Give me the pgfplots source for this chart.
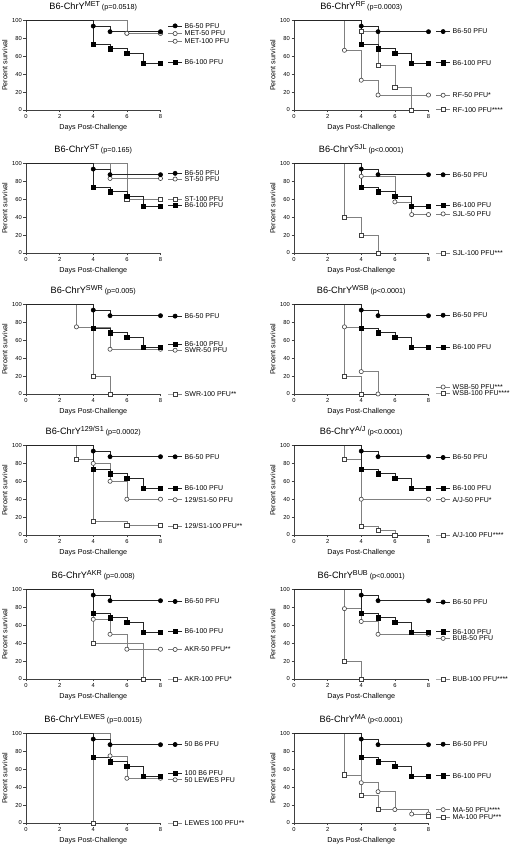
\documentclass[border=0pt]{standalone}
\usepackage{fontspec}
\setmainfont{Liberation Sans}
\usepackage{pgfplots}
\pgfplotsset{compat=1.18}
\definecolor{lineB}{gray}{0.15}
\definecolor{lineS}{gray}{0.5}
\definecolor{axc}{gray}{0.25}
\pgfplotsset{
 every axis title shift=0pt,
 panel/.style={
  scale only axis, width=134.5bp, height=89.5bp, anchor=south west,
  xmin=0,xmax=8,ymin=0,ymax=100,
  axis lines=left, axis line style={-, axc, line width=0.5bp},
  xtick={0,2,4,6,8}, ytick={0,20,40,60,80,100},
  tick align=outside, major tick length=2.5bp, tick style={axc, line width=0.5bp},
  clip=false,
  /pgf/number format/assume math mode=true,
  tick label style={font=\fontsize{5.8bp}{6bp}\selectfont, inner sep=1.5bp},
  xlabel={Days Post-Challenge}, ylabel={Percent survival},
  label style={font=\fontsize{7.2bp}{8bp}\selectfont},
  x label style={at={(axis description cs:0.5,-0.2)}, anchor=center},
  y label style={at={(axis description cs:-0.157,0.5)}, anchor=center},
  title style={at={(axis description cs:0.5,1.123)}, anchor=base, yshift=0pt, font=\fontsize{9.2bp}{10bp}\selectfont},
 },
 b6a/.style={lineB, line width=0.6bp, mark=*, mark size=2.1bp, mark options={fill=black, draw=black, solid}},
 b6b/.style={lineB, line width=0.6bp, mark=square*, mark size=2.1bp, mark options={fill=black, draw=black, solid}},
 sa/.style={lineS, line width=0.6bp, mark=*, mark size=2.1bp, mark options={fill=white, draw=black!75, solid}},
 sb/.style={lineS, line width=0.6bp, mark=square*, mark size=2.1bp, mark options={fill=white, draw=black!75, solid}},
}
\newcommand{\km}[2]{\addplot[#1, const plot, mark repeat=1, mark phase=2] coordinates {#2};}
\newcommand{\leg}[3]{%
 \addplot[#1, mark indices={2}, forget plot] coordinates {(8.45,#2) (8.87,#2) (9.29,#2)};
 \node[anchor=west, inner sep=0pt, font=\fontsize{7bp}{8bp}\selectfont] at (axis cs:9.43,#2) {#3};}
\newcommand{\ttl}[2]{B6-ChrY\raisebox{3.3bp}{\fontsize{7.2bp}{8bp}\selectfont #1}{\fontsize{7.2bp}{8bp}\selectfont\ (#2)}}
\newcommand{\bsix}{%
 \km{b6a}{(0,100)(4,93.75)(5,87.5)(8,87.5)}
 \km{b6b}{(0,100)(4,73.7)(5,68.4)(6,63.2)(7,52.6)(8,52.6)}}
\begin{document}
\begin{tikzpicture}
\useasboundingbox (0,0) rectangle (510bp,849bp);
% Row 1
\begin{axis}[panel, at={(26bp,739bp)}, title={\ttl{MET}{p=0.0518}}]
\km{sa}{(0,100)(6,85.7)(8,85.7)}
\km{sa}{(0,100)(6,85.7)(8,85.7)}
\bsix
\leg{b6a}{94}{B6-50 PFU}
\leg{sa}{85.4}{MET-50 PFU}
\leg{sa}{76.8}{MET-100 PFU}
\leg{b6b}{53.2}{B6-100 PFU}
\end{axis}
\begin{axis}[panel, at={(294bp,739bp)}, title={\ttl{RF}{p=0.0003}}]
\km{sa}{(0,100)(3,66.7)(4,33.3)(5,16.7)(8,16.7)}
\km{sb}{(0,100)(4,87.5)(5,50)(6,25)(7,0)}
\bsix
\leg{b6a}{87.6}{B6-50 PFU}
\leg{b6b}{52.8}{B6-100 PFU}
\leg{sa}{16.5}{RF-50 PFU*}
\leg{sb}{0.4}{RF-100 PFU****}
\end{axis}
% Row 2
\begin{axis}[panel, at={(26bp,596bp)}, title={\ttl{ST}{p=0.165}}]
\km{sa}{(0,100)(5,83.3)(8,83.3)}
\km{sb}{(0,100)(6,60)(8,60)}
\bsix
\leg{b6a}{89}{B6-50 PFU}
\leg{sa}{82.6}{ST-50 PFU}
\leg{sb}{60.4}{ST-100 PFU}
\leg{b6b}{53}{B6-100 PFU}
\end{axis}
\begin{axis}[panel, at={(294bp,596bp)}, title={\ttl{SJL}{p<0.0001}}]
\km{sa}{(0,100)(4,85.7)(6,57.1)(7,42.9)(8,42.9)}
\km{sb}{(0,100)(3,40)(4,20)(5,0)}
\bsix
\leg{b6a}{87.4}{B6-50 PFU}
\leg{b6b}{53}{B6-100 PFU}
\leg{sa}{43.7}{SJL-50 PFU}
\leg{sb}{0}{SJL-100 PFU***}
\end{axis}
% Row 3
\begin{axis}[panel, at={(26bp,455bp)}, title={\ttl{SWR}{p=0.005}}]
\km{sa}{(0,100)(3,75)(5,50)(8,50)}
\km{sb}{(0,100)(4,20)(5,0)}
\bsix
\leg{b6a}{87}{B6-50 PFU}
\leg{b6b}{55.6}{B6-100 PFU}
\leg{sa}{48.9}{SWR-50 PFU}
\leg{sb}{0}{SWR-100 PFU**}
\end{axis}
\begin{axis}[panel, at={(294bp,455bp)}, title={\ttl{WSB}{p<0.0001}}]
\km{sa}{(0,100)(3,75)(4,25)(5,0)}
\km{sb}{(0,100)(3,20)(4,0)}
\bsix
\leg{b6a}{88}{B6-50 PFU}
\leg{b6b}{52.2}{B6-100 PFU}
\leg{sa}{7.8}{WSB-50 PFU***}
\leg{sb}{1.1}{WSB-100 PFU****}
\end{axis}
% Row 4
\begin{axis}[panel, at={(26bp,314bp)}, title={\ttl{129/S1}{p=0.0002}}]
\km{sa}{(0,100)(4,80)(5,60)(6,40)(8,40)}
\km{sb}{(0,100)(3,84.6)(4,15.4)(6,10.5)(8,10.5)}
\bsix
\leg{b6a}{87.4}{B6-50 PFU}
\leg{b6b}{52}{B6-100 PFU}
\leg{sa}{39.4}{129/S1-50 PFU}
\leg{sb}{10}{129/S1-100 PFU**}
\end{axis}
\begin{axis}[panel, at={(294bp,314bp)}, title={\ttl{A/J}{p<0.0001}}]
\km{sa}{(0,100)(4,40)(8,40)}
\km{sb}{(0,100)(3,85)(4,10)(5,5)(6,0)}
\bsix
\leg{b6a}{86.6}{B6-50 PFU}
\leg{b6b}{52.4}{B6-100 PFU}
\leg{sa}{39.4}{A/J-50 PFU*}
\leg{sb}{0}{A/J-100 PFU****}
\end{axis}
% Row 5
\begin{axis}[panel, at={(26bp,170bp)}, title={\ttl{AKR}{p=0.008}}]
\km{sa}{(0,100)(4,66.7)(5,50)(6,33.3)(8,33.3)}
\km{sb}{(0,100)(4,40)(7,0)}
\bsix
\leg{b6a}{86.6}{B6-50 PFU}
\leg{b6b}{53.2}{B6-100 PFU}
\leg{sa}{33}{AKR-50 PFU**}
\leg{sb}{0}{AKR-100 PFU*}
\end{axis}
\begin{axis}[panel, at={(294bp,170bp)}, title={\ttl{BUB}{p<0.0001}}]
\km{sa}{(0,100)(3,78.6)(4,64.3)(5,50)(8,50)}
\km{sb}{(0,100)(3,20)(4,0)}
\bsix
\leg{b6a}{85.9}{B6-50 PFU}
\leg{b6b}{52.8}{B6-100 PFU}
\leg{sa}{45.4}{BUB-50 PFU}
\leg{sb}{0}{BUB-100 PFU****}
\end{axis}
% Row 6
\begin{axis}[panel, at={(26bp,26bp)}, title={\ttl{LEWES}{p=0.0015}}]
\km{sa}{(0,100)(5,75)(6,50)(8,50)}
\km{sb}{(0,100)(4,0)}
\bsix
\leg{b6a}{87.7}{50 B6 PFU}
\leg{b6b}{55.8}{100 B6 PFU}
\leg{sa}{48.3}{50 LEWES PFU}
\leg{sb}{0}{LEWES 100 PFU**}
\end{axis}
\begin{axis}[panel, at={(294bp,26bp)}, title={\ttl{MA}{p<0.0001}}]
\km{sa}{(0,100)(4,45)(5,35)(6,15)(7,10)(8,10)}
\km{sb}{(0,100)(3,53.8)(4,30.8)(5,15.4)(8,7.7)}
\bsix
\leg{b6a}{88}{B6-50 PFU}
\leg{b6b}{52.8}{B6-100 PFU}
\leg{sa}{14.9}{MA-50 PFU****}
\leg{sb}{6.3}{MA-100 PFU***}
\end{axis}
\end{tikzpicture}
\end{document}
